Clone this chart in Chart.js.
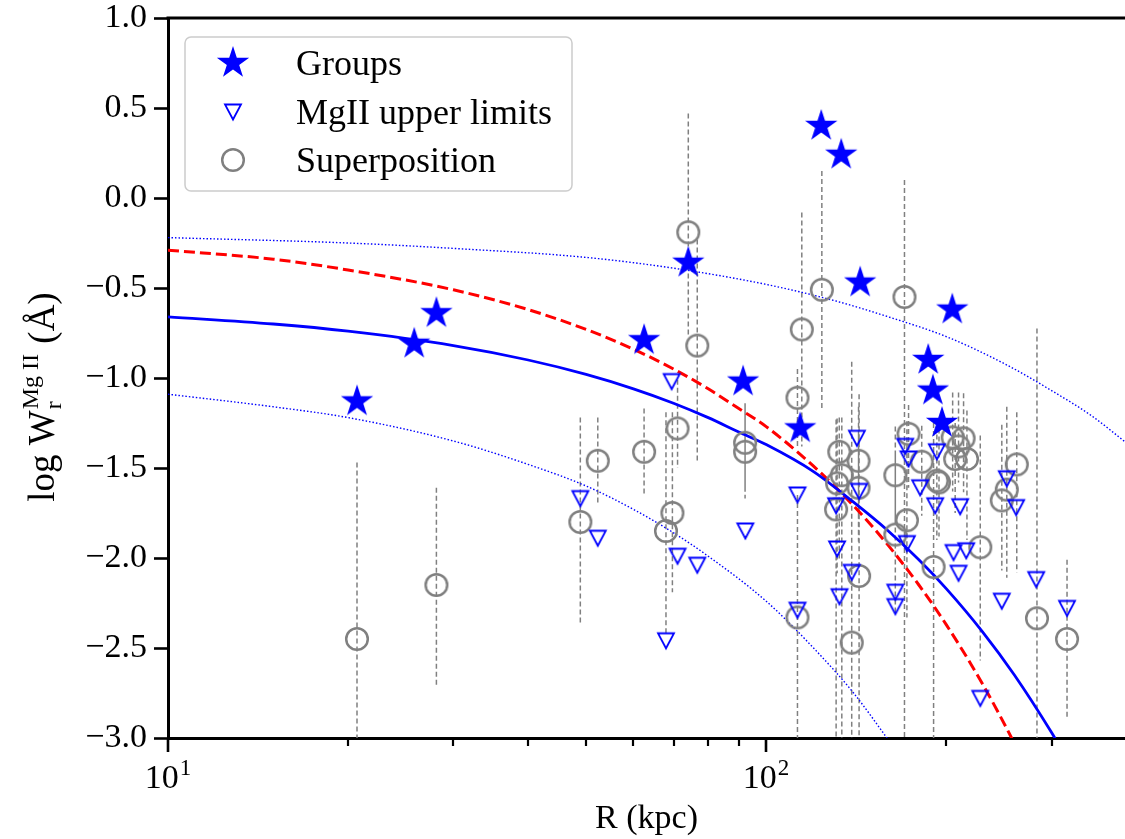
<!DOCTYPE html>
<html>
<head>
<meta charset="utf-8">
<title>MgII equivalent width vs impact parameter</title>
<script src="https://cdn.jsdelivr.net/npm/chart.js@4.4.0/dist/chart.umd.min.js"></script>
<style>
  html, body { margin: 0; padding: 0; background: #fff; overflow: hidden; }
  #wrap { width: 1125px; height: 839px; }
  #wrChart { display: block; }
</style>
</head>
<body>
<div id="wrap"><canvas id="wrChart" width="1125" height="839"></canvas></div>
<script>
// Groups (filled stars)
const starR = [20.7, 25.8, 28.1, 62.5, 74.1, 91.5, 114, 123.6, 133.5, 143.6, 204.7, 186.6, 190, 196.8];
const starW = [-1.13, -0.81, -0.64, -0.79, -0.36, -1.02, -1.28, 0.40, 0.24, -0.47, -0.62, -0.90, -1.07, -1.25];

// MgII upper limits (open down triangles)
const triR = [48.9, 52.3, 68.0, 69.5, 71.1, 76.7, 92.3, 112.8, 112.8, 141.8, 143.0, 130.9, 131.4, 139.0, 132.6, 164.4, 164.4,
              170.8, 173.0, 171.9, 180.9, 192.9, 191.7, 211.0, 205.7, 216.0, 209.7, 228.0, 252.5, 261.8, 247.7, 282.8, 318.4];
const triW = [-1.67, -1.89, -2.46, -1.02, -1.99, -2.04, -1.85, -1.65, -2.29, -1.335, -1.63, -1.71, -1.95, -2.08, -2.215, -2.19, -2.27,
              -1.38, -1.45, -1.92, -1.61, -1.41, -1.71, -1.715, -1.97, -1.96, -2.085, -2.78, -1.56, -1.72, -2.24, -2.12, -2.28];

// Superposition (open circles) with upper / lower error
const circR = [20.7, 28.1, 48.9, 52.3, 62.5, 68.0, 69.7, 71.1, 74.1, 76.7, 92.2, 92.2, 112.8, 114.7, 112.8, 123.9, 170.3,
               132.5, 133.8, 131.4, 130.9, 142.7, 142.7, 143.0, 139.0, 164.4, 164.4, 173.0, 171.9, 190.5, 182.0, 192.9,
               194.5, 205.0, 213.8, 209.7, 216.6, 207.0, 228.0, 262.4, 252.5, 247.7, 283.6, 318.4];
const circW = [-2.45, -2.15, -1.80, -1.46, -1.41, -1.85, -1.75, -1.28, -0.19, -0.82, -1.36, -1.41, -1.11, -0.73, -2.33, -0.51, -0.55,
               -1.41, -1.54, -1.585, -1.73, -1.46, -1.61, -2.10, -2.47, -1.54, -1.87, -1.31, -1.79, -2.05, -1.465, -1.57,
               -1.58, -1.33, -1.335, -1.38, -1.45, -1.45, -1.94, -1.48, -1.62, -1.68, -2.335, -2.45];
const circErrHi = [0.98, 0.54, 0.58, 0.24, 0.24, 0.66, 0.56, 0.27, 0.66, 0.59, 0.22, 0.25, 0.16, 0.65, 0.68, 0.66, 0.65,
                   0.19, 0.32, 0.36, 0.50, 0.30, 0.30, 1.01, 1.56, 0.27, 0.44, 0.16, 0.55, 0.80, 0.20, 0.30,
                   0.30, 0.25, 0.25, 0.30, 0.27, 0.20, 0.62, 0.29, 0.46, 0.42, 1.61, 0.44];
const circErrLo = [0.98, 0.56, 0.57, 0.24, 0.24, 0.57, 0.44, 0.22, 0.58, 0.65, 0.25, 0.26, 0.27, 0.65, 0.68, 0.66, 2.45,
                   0.60, 1.50, 0.50, 1.30, 0.30, 0.30, 1.01, 1.56, 0.27, 0.44, 0.30, 0.54, 0.95, 0.30, 0.33,
                   0.30, 0.30, 0.30, 0.20, 0.45, 0.30, 0.63, 0.60, 0.49, 0.39, 1.61, 0.44];

// Fit curves
const fitR = [10, 15, 20, 30, 40, 50, 60, 70, 80, 90, 100, 120, 140, 160, 180, 200, 230, 260, 300, 320];
const fitW = [-0.66, -0.70, -0.74, -0.82, -0.90, -0.98, -1.06, -1.14, -1.22, -1.30, -1.37, -1.52, -1.69, -1.85, -2.01, -2.17, -2.41, -2.65, -2.97, -3.13];
const altR = [10, 15, 20, 30, 40, 50, 60, 70, 80, 90, 100, 120, 140, 160, 180, 200, 230, 260, 280];
const altW = [-0.29, -0.34, -0.40, -0.51, -0.62, -0.73, -0.84, -0.95, -1.06, -1.17, -1.27, -1.49, -1.71, -1.93, -2.15, -2.37, -2.70, -3.03, -3.25];
const upR = [10, 20, 30, 50, 70, 100, 130, 160, 200, 250, 300, 350, 400];
const upW = [-0.22, -0.25, -0.28, -0.33, -0.39, -0.48, -0.57, -0.66, -0.77, -0.92, -1.07, -1.21, -1.36];
const loR = [10, 15, 20, 30, 40, 50, 60, 70, 80, 100, 120, 140, 160, 170];
const loW = [-1.09, -1.16, -1.22, -1.35, -1.48, -1.60, -1.73, -1.86, -1.99, -2.24, -2.50, -2.75, -3.01, -3.13];

// Axis ticks
const xMajorTicks = [10, 100];
const xMinorTicks = [20, 30, 40, 50, 60, 70, 80, 90, 200, 300];
const legendLabels = ['Groups', 'MgII upper limits', 'Superposition'];

const BLUE = '#0000ff';
const GREY = '#808080';
const SERIF = '"Liberation Serif", "Times New Roman", serif';

const toXY = (xs, ys) => xs.map((x, i) => ({ x: x, y: ys[i] }));

// error bars as one broken line: top, bottom, gap
const errPts = [];
circR.forEach((r, i) => {
    errPts.push({ x: r, y: circW[i] + circErrHi[i] });
    errPts.push({ x: r, y: circW[i] - circErrLo[i] });
    errPts.push({ x: r, y: null });
});

// marker images
function makeStar() {
    const c = document.createElement('canvas');
    c.width = 40; c.height = 40;
    const g = c.getContext('2d');
    const R = 17, r = R * 0.382;
    g.beginPath();
    for (let k = 0; k < 10; k++) {
        const rad = k % 2 === 0 ? R : r;
        const a = -Math.PI / 2 + k * Math.PI / 5;
        const px = 20 + rad * Math.cos(a), py = 20 + rad * Math.sin(a);
        k === 0 ? g.moveTo(px, py) : g.lineTo(px, py);
    }
    g.closePath();
    g.fillStyle = BLUE;
    g.fill();
    return c;
}
function makeTriangle() {
    const c = document.createElement('canvas');
    c.width = 22; c.height = 22;
    const g = c.getContext('2d');
    g.beginPath();
    g.moveTo(3, 3.5);
    g.lineTo(19, 3.5);
    g.lineTo(11, 18.5);
    g.closePath();
    g.strokeStyle = BLUE;
    g.lineWidth = 1.8;
    g.stroke();
    return c;
}
function makeCircle() {
    const c = document.createElement('canvas');
    c.width = 28; c.height = 28;
    const g = c.getContext('2d');
    g.beginPath();
    g.arc(14, 14, 10.8, 0, Math.PI * 2);
    g.strokeStyle = GREY;
    g.lineWidth = 2.5;
    g.stroke();
    return c;
}
const starImg = makeStar();
const triImg = makeTriangle();
const circImg = makeCircle();

// spines, log ticks, titles and legend box
const decorations = {
    id: 'decorations',
    afterDraw(chart) {
        const { ctx, chartArea: a, scales: { x } } = chart;
        ctx.save();
        ctx.strokeStyle = '#000';
        ctx.fillStyle = '#000';

        // top spine
        ctx.lineWidth = 3;
        ctx.beginPath();
        ctx.moveTo(a.left - 1.5, a.top);
        ctx.lineTo(a.right, a.top);
        ctx.stroke();

        // x ticks
        ctx.lineWidth = 2.2;
        xMinorTicks.forEach(v => {
            const px = Math.round(x.getPixelForValue(v));
            ctx.beginPath();
            ctx.moveTo(px, a.bottom);
            ctx.lineTo(px, a.bottom + 8);
            ctx.stroke();
        });
        ctx.lineWidth = 2.6;
        xMajorTicks.forEach(v => {
            const px = Math.round(x.getPixelForValue(v));
            ctx.beginPath();
            ctx.moveTo(px, a.bottom);
            ctx.lineTo(px, a.bottom + 14);
            ctx.stroke();
            // 10^n label
            const exp = String(Math.round(Math.log10(v)));
            ctx.font = '34px ' + SERIF;
            const wBase = ctx.measureText('10').width;
            ctx.font = '23px ' + SERIF;
            const wExp = ctx.measureText(exp).width;
            const x0 = px - (wBase + wExp + 1) / 2;
            ctx.textAlign = 'left';
            ctx.textBaseline = 'alphabetic';
            ctx.font = '34px ' + SERIF;
            ctx.fillText('10', x0, a.bottom + 50);
            ctx.font = '23px ' + SERIF;
            ctx.fillText(exp, x0 + wBase + 1, a.bottom + 37);
        });

        // x title
        ctx.font = '34px ' + SERIF;
        ctx.textAlign = 'center';
        ctx.fillText('R (kpc)', (a.left + a.right) / 2, 828);

        // y title, rotated
        ctx.save();
        ctx.translate(54, 397);
        ctx.rotate(-Math.PI / 2);
        ctx.textAlign = 'left';
        const big = '37px ' + SERIF, small = '24px ' + SERIF;
        ctx.font = big;
        const w1 = ctx.measureText('log W').width;
        const w3 = ctx.measureText(' (Å)').width;
        ctx.font = small;
        const wSup = ctx.measureText('Mg II').width;
        let tx = -(w1 + wSup + 2 + w3) / 2;
        ctx.font = big;
        ctx.fillText('log W', tx, 0);
        tx += w1;
        ctx.font = small;
        ctx.fillText('r', tx + 1, 7);
        ctx.fillText('Mg II', tx + 1, -16);
        tx += wSup + 2;
        ctx.font = big;
        ctx.fillText(' (Å)', tx, 0);
        ctx.restore();

        // legend
        const bx = 185, by = 37, bw = 387, bh = 154;
        ctx.beginPath();
        ctx.roundRect(bx, by, bw, bh, 6);
        ctx.fillStyle = 'rgba(255,255,255,0.85)';
        ctx.fill();
        ctx.strokeStyle = '#cccccc';
        ctx.lineWidth = 1.5;
        ctx.stroke();
        const imgs = [starImg, triImg, circImg];
        const rows = [63, 112, 160];
        ctx.fillStyle = '#000';
        ctx.font = '36px ' + SERIF;
        ctx.textAlign = 'left';
        rows.forEach((ry, i) => {
            const im = imgs[i];
            ctx.drawImage(im, 233 - im.width / 2, ry - im.height / 2);
            ctx.fillText(legendLabels[i], 296, ry + 12);
        });
        ctx.restore();
    }
};

const ctx = document.getElementById('wrChart').getContext('2d');
const wrChart = new Chart(ctx, {
    type: 'scatter',
    data: {
        datasets: [
            {
                label: legendLabels[0],
                data: toXY(starR, starW),
                pointStyle: starImg,
                pointRadius: 5,
                order: 0
            },
            {
                label: legendLabels[1],
                data: toXY(triR, triW),
                pointStyle: triImg,
                pointRadius: 5,
                order: 1
            },
            {
                label: legendLabels[2],
                data: toXY(circR, circW),
                pointStyle: circImg,
                pointRadius: 5,
                order: 2
            },
            {
                type: 'line',
                label: 'fit',
                data: toXY(fitR, fitW),
                borderColor: BLUE,
                borderWidth: 2.8,
                pointRadius: 0,
                cubicInterpolationMode: 'monotone',
                order: 3
            },
            {
                type: 'line',
                label: 'alt fit',
                data: toXY(altR, altW),
                borderColor: '#ff0000',
                borderWidth: 3,
                borderDash: [11, 5],
                pointRadius: 0,
                cubicInterpolationMode: 'monotone',
                order: 4
            },
            {
                type: 'line',
                label: 'upper envelope',
                data: toXY(upR, upW),
                borderColor: BLUE,
                borderWidth: 1.4,
                borderDash: [1.5, 2],
                pointRadius: 0,
                cubicInterpolationMode: 'monotone',
                order: 5
            },
            {
                type: 'line',
                label: 'lower envelope',
                data: toXY(loR, loW),
                borderColor: BLUE,
                borderWidth: 1.4,
                borderDash: [1.5, 2],
                pointRadius: 0,
                cubicInterpolationMode: 'monotone',
                order: 6
            },
            {
                type: 'line',
                label: 'errors',
                data: errPts,
                borderColor: GREY,
                borderWidth: 1.5,
                borderDash: [5, 3],
                pointRadius: 0,
                spanGaps: false,
                order: 7
            }
        ]
    },
    options: {
        responsive: false,
        animation: false,
        events: [],
        layout: { autoPadding: false, padding: { top: 18, right: 0, bottom: 0, left: 0 } },
        plugins: {
            legend: { display: false },
            tooltip: { enabled: false }
        },
        scales: {
            x: {
                type: 'logarithmic',
                min: 10,
                max: 398,
                ticks: { display: false },
                grid: { display: false },
                border: { display: true, color: '#000', width: 3 },
                afterFit(scale) {
                    scale.height = 101;
                    scale.paddingLeft = 0;
                    scale.paddingRight = 0;
                }
            },
            y: {
                min: -3,
                max: 1,
                ticks: {
                    stepSize: 0.5,
                    color: '#000',
                    padding: 7,
                    font: { family: SERIF, size: 34 },
                    callback: v => v.toFixed(1).replace('-', '\u2212')
                },
                grid: {
                    drawOnChartArea: false,
                    drawTicks: true,
                    tickLength: 14,
                    tickWidth: 2.6,
                    tickColor: '#000'
                },
                border: { display: true, color: '#000', width: 3 },
                afterFit(scale) {
                    scale.width = 168;
                    scale.paddingTop = 0;
                    scale.paddingBottom = 0;
                }
            }
        }
    },
    plugins: [decorations]
});
</script>
</body>
</html>
